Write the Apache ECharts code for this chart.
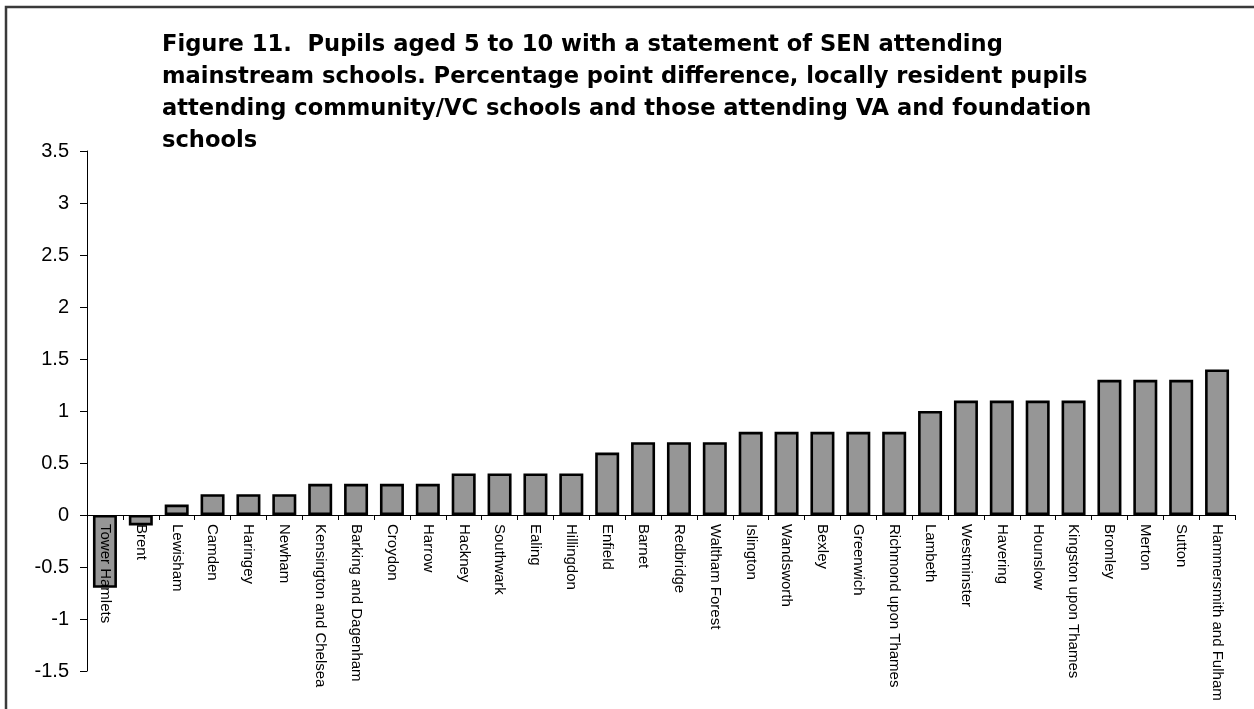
<!DOCTYPE html>
<html>
<head>
<meta charset="utf-8">
<script src="https://cdn.jsdelivr.net/npm/echarts@6/dist/echarts.min.js"></script>
<style>html,body{margin:0;padding:0;background:#fff}#c{width:1254px;height:709px}</style>
</head>
<body>
<div id="c"></div>
<script>
const categories = ["Tower Hamlets","Brent","Lewisham","Camden","Haringey","Newham","Kensington and Chelsea","Barking and Dagenham","Croydon","Harrow","Hackney","Southwark","Ealing","Hillingdon","Enfield","Barnet","Redbridge","Waltham Forest","Islington","Wandsworth","Bexley","Greenwich","Richmond upon Thames","Lambeth","Westminster","Havering","Hounslow","Kingston upon Thames","Bromley","Merton","Sutton","Hammersmith and Fulham"];
const values = [-0.7,-0.1,0.1,0.2,0.2,0.2,0.3,0.3,0.3,0.3,0.4,0.4,0.4,0.4,0.6,0.7,0.7,0.7,0.8,0.8,0.8,0.8,0.8,1.0,1.1,1.1,1.1,1.1,1.3,1.3,1.3,1.4];
const yMin = -1.5, yMax = 3.5, yStep = 0.5;
const titleText = "Figure 11.  Pupils aged 5 to 10 with a statement of SEN attending\nmainstream schools. Percentage point difference, locally resident pupils\nattending community/VC schools and those attending VA and foundation\nschools";

const chart = echarts.init(document.getElementById('c'), null, {renderer:'canvas'});
const gridCfg = {left: 87, right: 19, top: 151, bottom: 38, containLabel: false, outerBoundsMode: 'none'};
chart.setOption({
  animation: false,
  backgroundColor: '#fff',
  title: {
    text: titleText,
    left: 157, top: 24,
    textStyle: {fontFamily: 'DejaVu Sans', fontWeight: 'bold', fontSize: 22.6, lineHeight: 32, color: '#000'}
  },
  graphic: [{
    type: 'rect', shape: {x: 6, y: 7, width: 1270, height: 730},
    style: {fill: 'none', stroke: '#3a3a3a', lineWidth: 2.5}, silent: true, z: 100
  }],
  grid: gridCfg,
  xAxis: {
    type: 'category', data: categories, boundaryGap: true, offset: 0, z: 10,
    axisLine: {onZero: false, lineStyle: {color: '#000', width: 1}},
    axisTick: {show: true, inside: false, length: 5, lineStyle: {color: '#000'}},
    axisLabel: {rotate: -90, margin: 9, interval: 0, fontFamily: 'Liberation Sans', fontSize: 15, color: '#000'}
  },
  yAxis: {
    type: 'value', min: yMin, max: yMax, interval: yStep,
    splitLine: {show: false},
    axisLine: {show: true, lineStyle: {color: '#000', width: 1}},
    axisTick: {show: true, length: 7, lineStyle: {color: '#000'}},
    axisLabel: {margin: 18, fontFamily: 'Liberation Sans', fontSize: 20, color: '#000'}
  },
  series: [{
    type: 'bar', data: values, barWidth: 24, z: 2,
    itemStyle: {color: '#969696', borderColor: '#000', borderWidth: 2.6}
  }]
});
// move the category axis (line, ticks, labels) up to the zero value of the y scale
const zeroY = chart.convertToPixel({yAxisIndex: 0}, 0);
const bottomY = chart.convertToPixel({yAxisIndex: 0}, yMin);
chart.setOption({xAxis: {offset: -(bottomY - zeroY)}});
</script>
</body>
</html>
